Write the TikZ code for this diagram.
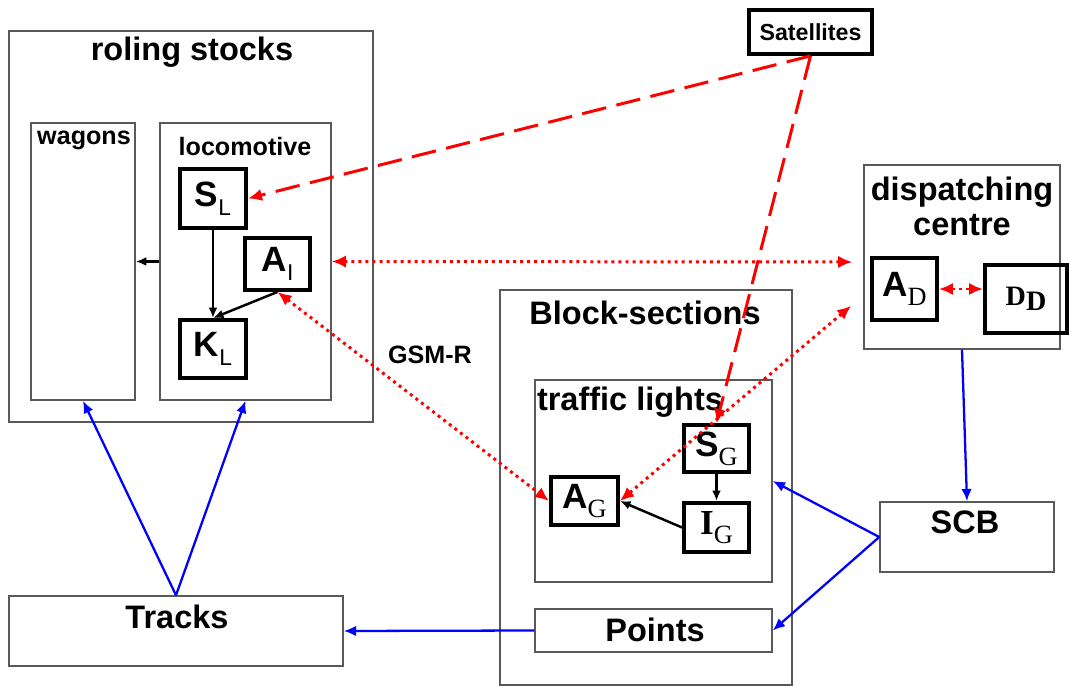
\documentclass[tikz,border=0pt]{standalone}
\usepackage{fontspec}
\setmainfont{Liberation Sans}
\newfontfamily\tmsfont{Liberation Serif}
\usetikzlibrary{arrows.meta}
\usetikzlibrary{positioning}
\usetikzlibrary{calc}

\newcommand{\sbs}[1]{\raisebox{-5pt}{\fontsize{13}{13}\selectfont\mdseries #1}}
\newcommand{\sbt}[1]{\raisebox{-5pt}{\fontsize{15}{15}\selectfont\mdseries\tmsfont #1}}

\begin{document}
\begin{tikzpicture}[x=0.02cm, y=-0.02cm,
    frame/.style={draw=black!65, line width=0.85pt, inner sep=0pt},
    unit/.style={draw=black, line width=2.2pt, inner sep=0pt, font=\bfseries\fontsize{20}{22}\selectfont},
    sz/.style 2 args={minimum width=#1*0.02cm, minimum height=#2*0.02cm},
    title/.style={font=\bfseries\fontsize{18.5}{21}\selectfont, inner sep=0pt},
    small/.style={font=\bfseries\fontsize{14.3}{16}\selectfont, inner sep=0pt},
    radio/.style={red, line width=1.7pt, dash pattern=on 14pt off 6pt, -{Latex[length=8pt,width=7pt]}},
    link/.style={red, line width=1.7pt, dash pattern=on 1.7pt off 2.3pt, {Latex[length=8pt,width=7pt]}-{Latex[length=8pt,width=7pt]}},
    wire/.style={blue, line width=1.3pt, -{Latex[length=7pt,width=6pt]}},
    ctrl/.style={black, line width=1.4pt, -{Latex[length=6pt,width=5pt]}}]

        \useasboundingbox (0,0) rectangle (1069,686);

        % rolling stock
        \node[frame, sz={364}{391}] (rolling) at (191,226.5) {};
        \node[title] (rollingt) at (192,52) {roling stocks};
        \node[frame, sz={104}{277}] (wagons) at (83,261.5) {};
        \node[small] (wagonst) at (84,140) {wagons};
        \node[frame, sz={171}{277}] (loco) at (245.5,261.5) {};
        \node[small] (locot) at (245,147) {locomotive};
        \node[unit, sz={66}{59}] (SL) at (213,198.5) {S\sbs{L}};
        \node[unit, sz={65}{52}] (AI) at (277.5,264) {A\sbs{I}};
        \node[unit, sz={66}{58}] (KL) at (213,349) {K\sbs{L}};

        \node[unit, sz={123}{44}, font=\bfseries\fontsize{13.2}{15}\selectfont] (sat) at (810.5,32) {Satellites};

        % dispatching centre
        \node[frame, sz={196}{184}] (disp) at (962,257) {};
        \node[title, align=center] (dispt) at (962,206) {dispatching\\[-1pt]centre};
        \node[unit, sz={65}{62}] (AD) at (904.5,289) {A\sbt{D}};
        \node[unit, sz={82}{68}, font=\tmsfont\bfseries\fontsize{16}{18}\selectfont] (DD) at (1026,299) {D\raisebox{-3pt}{D}\hspace{8pt}};

        % block sections
        \node[frame, sz={292}{395}] (block) at (646,487.5) {};
        \node[title] (blockt) at (645,313) {Block-sections};
        \node[frame, sz={237}{202}] (tl) at (653.5,481) {};
        \node[title] (tlt) at (630,402) {traffic lights};
        \node[unit, sz={65}{47}] (SG) at (716.5,448.5) {S\sbt{G}};
        \node[unit, sz={65}{49}] (IG) at (716.5,527.5) {{\tmsfont I}\sbt{G}};
        \node[unit, sz={67}{48}] (AG) at (584.5,501) {A\sbt{G}};
        \node[frame, sz={237}{43}] (points) at (653.5,630.5) {};
        \node[title] (pointst) at (655,630) {Points};

        \node[frame, sz={174}{70}] (scb) at (967,537) {};
        \node[title] (scbt) at (965,522) {SCB};
        \node[frame, sz={334}{70}] (tracks) at (176,631) {};
        \node[title] (trackst) at (177,617) {Tracks};

        \node[small] (gsm) at (430,355) {GSM-R};

        % black links
        \draw[ctrl] (loco.west) -- (wagons.east);
        \draw[ctrl] (SL.south) -- (KL.north);
        \draw[ctrl] (AI.south) -- (KL.north);
        \draw[ctrl] (SG.south) -- (IG.north);
        \draw[ctrl] (IG.west) -- (AG.east);

        % radio links
        \draw[radio] (sat.south) -- (SL.east);
        \draw[radio] (sat.south) -- (SG.north);
        \coordinate (dispin) at ($(disp.west)+(-11,5)$);
        \coordinate (dispdn) at ($(disp.south west)+(-12,-44)$);
        \draw[link] (loco.east) -- (dispin);
        \draw[link] (AI.south) -- (AG.west);
        \draw[link] (dispdn) -- (AG.east);
        \draw[link] (AD.east) -- (AD.east -| DD.west);

        % control wires
        \draw[wire] (disp.south) -- (scb.north);
        \draw[wire] (scb.west) -- (tl.east);
        \draw[wire] (scb.west) -- (points.east);
        \draw[wire] (points.west) -- (tracks.east);
        \draw[wire] (tracks.north) -- (wagons.south);
        \draw[wire] (tracks.north) -- (loco.south);

\end{tikzpicture}
\end{document}
